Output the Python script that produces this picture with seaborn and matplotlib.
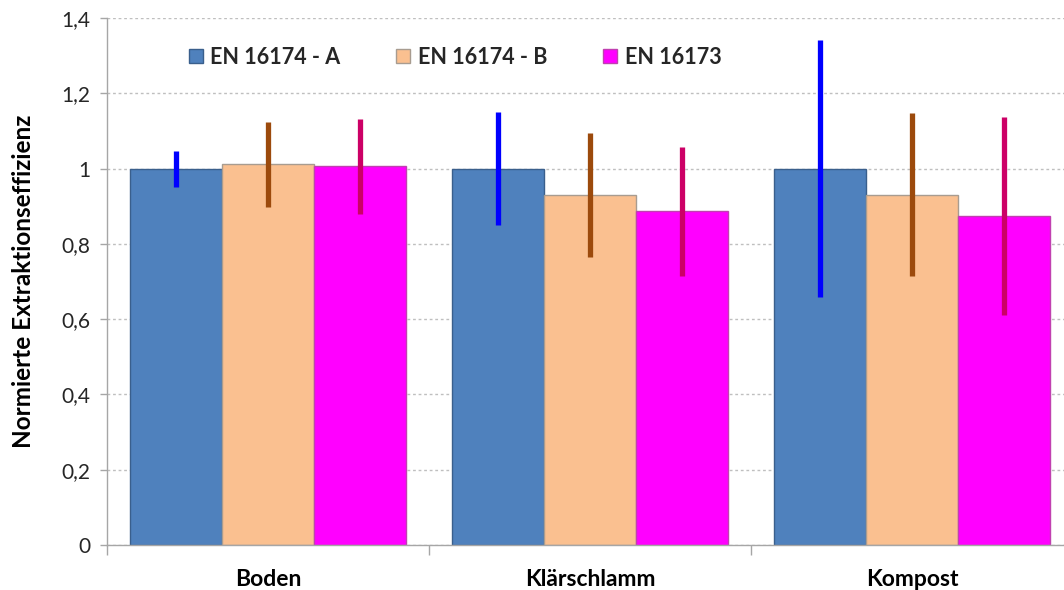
import matplotlib
matplotlib.use("Agg")
import matplotlib.pyplot as plt
from matplotlib.patches import Patch
from matplotlib.ticker import FixedLocator, FuncFormatter
import seaborn as sns
import pandas as pd
import numpy as np

# Sample matrices and extraction methods
categories = ["Boden", "Klärschlamm", "Kompost"]
methods = ["EN 16174 - A", "EN 16174 - B", "EN 16173"]

# Normalised extraction efficiency (mean) per method, in category order
eff_a = [1.00, 1.00, 1.00]
eff_b = [1.012, 0.929, 0.931]
eff_c = [1.006, 0.886, 0.874]

# Error half-widths per method
err_a = [0.048, 0.151, 0.342]
err_b = [0.113, 0.165, 0.217]
err_c = [0.127, 0.171, 0.262]

yticks = [0, 0.2, 0.4, 0.6, 0.8, 1.0, 1.2, 1.4]

bar_colors = ["#4F81BD", "#FAC090", "#FF00FF"]
edge_colors = ["#3A5F8C", "#A89C90", "#C040B0"]
err_colors = ["#0000FF", "#9C4A0C", "#CC0066"]

df = pd.DataFrame({
    "Matrix": categories * 3,
    "Methode": [m for m in methods for _ in categories],
    "Effizienz": eff_a + eff_b + eff_c,
})
errors = {methods[0]: err_a, methods[1]: err_b, methods[2]: err_c}

sns.set_theme(style="white")
plt.rcParams["font.family"] = ["Lato", "DejaVu Sans"]

W, H = 1064, 590
fig = plt.figure(figsize=(W / 100, H / 100), dpi=100)
# plot area in pixel terms: left 107, right 1073 (last group runs off the canvas), top 18, bottom 545
ax = fig.add_axes([107 / W, (H - 545) / H, (1073 - 107) / W, (545 - 18) / H])

sns.barplot(
    data=df, x="Matrix", y="Effizienz", hue="Methode",
    order=categories, hue_order=methods, palette=bar_colors, saturation=1,
    width=0.855, errorbar=None, ax=ax, legend=False, zorder=2,
)

for cont, ec, errc, m in zip(ax.containers, edge_colors, err_colors, methods):
    xs, ys = [], []
    for bar in cont:
        bar.set_edgecolor(ec)
        bar.set_linewidth(1.0)
        xs.append(bar.get_x() + bar.get_width() / 2)
        ys.append(bar.get_height())
    ax.errorbar(xs, ys, yerr=errors[m], fmt="none", ecolor=errc,
                elinewidth=3.8, capsize=0, zorder=3)

ax.set_ylim(0, 1.4)
ax.set_xlim(-0.5, 2.5)
ax.set_yticks(yticks)
ax.yaxis.set_major_formatter(FuncFormatter(
    lambda v, p: "0" if v == 0 else ("1" if abs(v - 1) < 1e-9 else f"{v:.1f}".replace(".", ","))))
ax.tick_params(axis="y", which="major", direction="out", length=5, width=1,
               color="#A6A6A6", labelsize=15, labelcolor="#262626", pad=7, left=True)

ax.xaxis.set_minor_locator(FixedLocator([-0.5, 0.5, 1.5, 2.5]))
ax.tick_params(axis="x", which="minor", direction="out", length=7, width=1,
               color="#A6A6A6", bottom=True)
ax.tick_params(axis="x", which="major", length=0, pad=17, labelsize=16.5,
               labelcolor="#000000")
for lbl in ax.get_xticklabels():
    lbl.set_fontweight("bold")

ax.grid(axis="y", which="major", linestyle=(0, (2, 2)), color="#BFBFBF",
        linewidth=1, zorder=0)
ax.set_axisbelow(True)

for s in ["top", "right"]:
    ax.spines[s].set_visible(False)
for s in ["left", "bottom"]:
    ax.spines[s].set_color("#A6A6A6")
    ax.spines[s].set_linewidth(1)

ax.set_xlabel("")
ax.set_ylabel("Normierte Extraktionseffizienz", fontsize=17.5,
              fontweight="bold", color="#000000", labelpad=19)

handles = [Patch(facecolor=c, edgecolor=e, linewidth=1) for c, e in zip(bar_colors, edge_colors)]
leg = ax.legend(handles, methods, ncol=3, frameon=False, loc="center",
                bbox_to_anchor=((455 - 107) / (1073 - 107), (545 - 57) / 527),
                prop={"weight": "bold", "size": 15.5}, handlelength=0.65,
                handleheight=0.65, handletextpad=0.35, columnspacing=2.6)

fig.savefig("out.png", dpi=100, facecolor="white")
